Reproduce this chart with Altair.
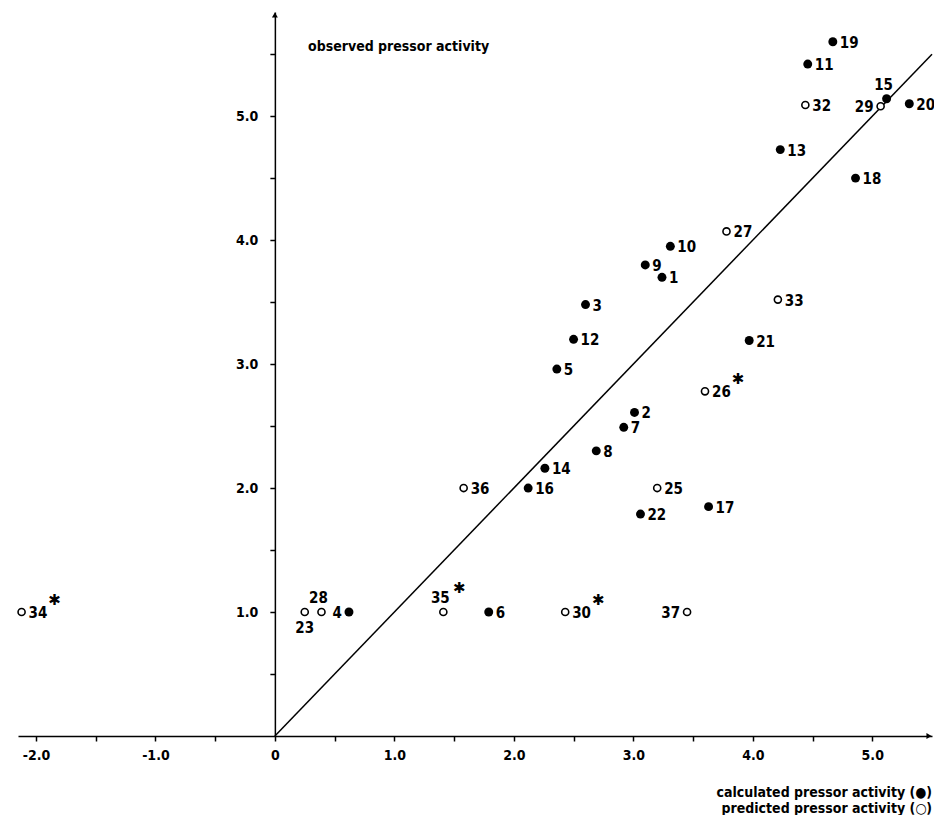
import altair as alt
import pandas as pd

# ---- data ----
calc_ids = [1, 2, 3, 4, 5, 6, 7, 8, 9, 10, 11, 12, 13, 14, 15, 16, 17, 18, 19, 20, 21, 22]
calc_x = [3.24, 3.01, 2.60, 0.62, 2.36, 1.79, 2.92, 2.69, 3.10, 3.31, 4.46, 2.50,
          4.23, 2.26, 5.12, 2.12, 3.63, 4.86, 4.67, 5.31, 3.97, 3.06]
calc_y = [3.70, 2.61, 3.48, 1.00, 2.96, 1.00, 2.49, 2.30, 3.80, 3.95, 5.42, 3.20,
          4.73, 2.16, 5.14, 2.00, 1.85, 4.50, 5.60, 5.10, 3.19, 1.79]

pred_ids = [23, 25, 26, 27, 28, 29, 30, 32, 33, 34, 35, 36, 37]
pred_x = [0.25, 3.20, 3.60, 3.78, 0.39, 5.07, 2.43, 4.44, 4.21, -2.12, 1.41, 1.58, 3.45]
pred_y = [1.00, 2.00, 2.78, 4.07, 1.00, 5.08, 1.00, 5.09, 3.52, 1.00, 1.00, 2.00, 1.00]

starred = [26, 30, 34, 35]

x_ticks = [-2, -1.5, -1, -0.5, 0, 0.5, 1, 1.5, 2, 2.5, 3, 3.5, 4, 4.5, 5]
y_ticks = [0.5, 1, 1.5, 2, 2.5, 3, 3.5, 4, 4.5, 5, 5.5]

# label placement (layout)
LEFT = [4, 29, 37]
ABOVE = [15, 28, 35]
BELOW = [23]
RIGHT = [i for i in calc_ids + pred_ids if i not in LEFT + ABOVE + BELOW]
STAR_RIGHT = [i for i in starred if i in RIGHT]
STAR_ABOVE = [i for i in starred if i in ABOVE]

FONT = "DejaVu Sans Condensed, Liberation Sans Narrow, DejaVu Sans, sans-serif"

df = pd.concat([
    pd.DataFrame({"id": calc_ids, "x": calc_x, "y": calc_y, "kind": "calculated"}),
    pd.DataFrame({"id": pred_ids, "x": pred_x, "y": pred_y, "kind": "predicted"}),
], ignore_index=True)
df["label"] = df["id"].astype(str)

W, H = 914, 724
XMIN, XMAX = -2.15, 5.5
YMIN, YMAX = 0, 5.84
x_scale = alt.Scale(domain=[XMIN, XMAX], nice=False, zero=False)
y_scale = alt.Scale(domain=[YMIN, YMAX], nice=False, zero=False)
y_axis_offset = -W * (0 - XMIN) / (XMAX - XMIN)

x_axis = alt.Axis(
    values=x_ticks,
    labelExpr="datum.value == 0 ? '0' : (datum.value % 1 == 0 ? replace(format(datum.value, '.1f'), '\u2212', '-') : '')",
    title=None, grid=False, domainColor="black", domainWidth=1.5,
    tickColor="black", tickWidth=1.5, tickSize=5,
    labelFont=FONT, labelFontSize=14, labelFontWeight="bold", labelColor="black",
    labelPadding=7, labelFlush=False, labelOverlap=False,
)
y_axis = alt.Axis(
    values=y_ticks,
    labelExpr="(datum.value % 1 == 0 && datum.value > 0) ? format(datum.value, '.1f') : ''",
    title=None, grid=False, domainColor="black", domainWidth=1.5,
    tickColor="black", tickWidth=1.5, tickSize=5,
    labelFont=FONT, labelFontSize=14, labelFontWeight="bold", labelColor="black",
    labelPadding=12, labelFlush=False, labelOverlap=False,
    offset=y_axis_offset,
)

X = alt.X("x:Q", scale=x_scale, axis=x_axis)
Y = alt.Y("y:Q", scale=y_scale, axis=y_axis)

base = alt.Chart(df)

line = alt.Chart(pd.DataFrame({"x": [0, 5.5], "y": [0, 5.5]})).mark_line(
    color="black", strokeWidth=1.5
).encode(x=X, y=Y)

filled = base.transform_filter(alt.datum.kind == "calculated").mark_point(
    shape="circle", filled=True, size=80, color="black", opacity=1
).encode(x=X, y=Y)

hollow = base.transform_filter(alt.datum.kind == "predicted").mark_point(
    shape="circle", filled=True, fill="white", stroke="black", strokeWidth=1.6,
    size=50, opacity=1
).encode(x=X, y=Y)


def labels(ids, **kw):
    return base.transform_filter(
        alt.FieldOneOfPredicate(field="id", oneOf=ids)
    ).mark_text(font=FONT, fontSize=15, fontWeight="bold", color="black", **kw).encode(
        x=X, y=Y, text="label:N"
    )


lab_r = labels(RIGHT, align="left", baseline="middle", dx=7, dy=1)
lab_l = labels(LEFT, align="right", baseline="middle", dx=-7, dy=1)
lab_a = labels(ABOVE, align="center", baseline="middle", dx=-3, dy=-14)
lab_b = labels(BELOW, align="center", baseline="middle", dx=0, dy=16)


def stars(ids, dx, dy):
    return base.transform_filter(
        alt.FieldOneOfPredicate(field="id", oneOf=ids)
    ).mark_text(font="DejaVu Sans", fontSize=15, fontWeight="bold", color="black",
                align="center", baseline="middle", dx=dx, dy=dy, text="\u2731").encode(x=X, y=Y)


star_r = stars(STAR_RIGHT, 33, -12)
star_a = stars(STAR_ABOVE, 16, -24)

one = pd.DataFrame({"k": [0]})
arrow_x = alt.Chart(one).mark_point(shape="triangle-right", filled=True, color="black",
                                    size=35, opacity=1).encode(
    x=alt.value(W - 3), y=alt.value(H))
arrow_y = alt.Chart(one).mark_point(shape="triangle-up", filled=True, color="black",
                                    size=35, opacity=1).encode(
    x=alt.value(-y_axis_offset), y=alt.value(3))

title_y = alt.Chart(one).mark_text(font=FONT, fontSize=14, fontWeight="bold", color="black",
                                   align="left", baseline="middle",
                                   text="observed pressor activity").encode(
    x=alt.value(290), y=alt.value(35))
title_x1 = alt.Chart(one).mark_text(font=FONT, fontSize=14, fontWeight="bold", color="black",
                                    align="right", baseline="middle",
                                    text="calculated pressor activity (\u25cf)").encode(
    x=alt.value(W), y=alt.value(781))
title_x2 = alt.Chart(one).mark_text(font=FONT, fontSize=14, fontWeight="bold", color="black",
                                    align="right", baseline="middle",
                                    text="predicted pressor activity (\u25cb)").encode(
    x=alt.value(W), y=alt.value(797))

chart = alt.layer(
    line, filled, hollow, lab_r, lab_l, lab_a, lab_b, star_r, star_a,
    arrow_x, arrow_y, title_y, title_x1, title_x2
).properties(
    width=W, height=H,
    padding={"left": 10, "top": 4, "right": 2, "bottom": 79},
    autosize=alt.AutoSizeParams(type="none"),
    background="white",
).configure_view(stroke=None)

chart.save("out.html", embed_options={"renderer": "svg", "actions": False})
